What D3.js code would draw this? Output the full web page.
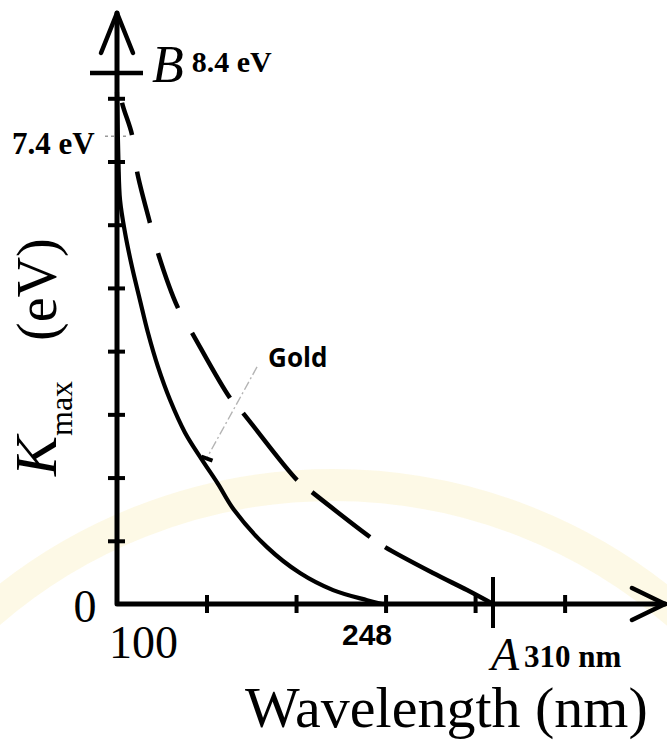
<!DOCTYPE html>
<html>
<head>
<meta charset="utf-8">
<title>Kmax vs Wavelength</title>
<script src="https://cdn.jsdelivr.net/npm/d3@7"></script>
<style>
    body { margin: 0; background: #ffffff; }
    svg { display: block; }
</style>
</head>
<body>
<div id="chart"></div>
<script>
// solid curve (gold): wavelength (nm) and Kmax (eV)
var solidLambda = [100, 100.8, 101.7, 104.5, 108.4, 112.8, 117.3, 122.9, 129.6, 138.0, 147.5, 156.4, 165.3, 183.8, 202.2, 220.7, 239.7, 248];
var solidK = [8.1, 7.02, 6.39, 5.87, 5.33, 4.81, 4.29, 3.75, 3.23, 2.71, 2.28, 1.90, 1.49, 0.90, 0.49, 0.22, 0.06, 0];

// dashed curve
var dashedLambda = [100, 102.8, 108.4, 111.2, 118.4, 122.9, 134.1, 141.9, 163.1, 170.4, 200.6, 208.9, 241.3, 249.7, 276.5, 295.5, 310];
var dashedK = [8.4, 7.93, 7.42, 6.84, 6.03, 5.55, 4.68, 4.29, 3.26, 3.02, 1.96, 1.77, 1.06, 0.90, 0.49, 0.22, 0];
// indices of the dashed curve points where a gap ends or a dash ends (first stretch is a gap)
var dashBreaks = [1, 2, 3, 4, 5, 6, 7, 8, 9, 10, 11, 12, 13];

// ticks
var xTicks = [150, 200, 250, 300, 350];
var yTicks = [1, 2, 3, 4, 5, 6, 7, 8];

// marked values
var lambdaMin = 100;
var lambdaGold = 248;
var lambdaA = 310;
var kB = 8.4;
var kGold = 7.4;

// label point for "Gold" and its leader line
var goldLabel = {lambda: 184.4, k: 3.75};
var goldLeader = [{lambda: 178.2, k: 3.75}, {lambda: 150.0, k: 2.30}];

window.onload = function() {
    draw();
};

function draw() {
    var width = 667;
    var height = 743;

    var xscale = d3.scaleLinear().domain([100, 310]).range([117, 493]);
    var yscale = d3.scaleLinear().domain([0, 8.4]).range([604, 73]);

    var svg = d3.select("#chart").append("svg")
        .attr("width", width)
        .attr("height", height);

    svg.append("rect").attr("width", width).attr("height", height).attr("fill", "#ffffff");

    // faint watermark ring in the background
    svg.append("circle")
        .attr("cx", 333).attr("cy", 1010).attr("r", 525)
        .attr("fill", "none")
        .attr("stroke", "#fcf7dc")
        .attr("stroke-width", 32)
        .attr("opacity", 0.7);

    var x0 = xscale(lambdaMin);
    var y0 = yscale(0);

    // axes with arrows
    var axisg = svg.append("g")
        .attr("fill", "none")
        .attr("stroke", "#000")
        .attr("stroke-linecap", "round")
        .attr("stroke-linejoin", "round");

    axisg.append("path")
        .attr("d", "M" + x0 + "," + 13 + "V" + y0 + "H" + 665)
        .attr("stroke-width", 5);
    axisg.append("path")
        .attr("d", "M" + (x0 - 16) + ",53L" + x0 + ",13L" + (x0 + 16) + ",53")
        .attr("stroke-width", 4.5);
    axisg.append("path")
        .attr("d", "M632," + (y0 - 16) + "L665," + y0 + "L632," + (y0 + 16))
        .attr("stroke-width", 4.5);

    // x ticks through d3 axis, ticks crossing the line
    var xaxis = d3.axisBottom(xscale)
        .tickValues(xTicks)
        .tickSizeOuter(0)
        .tickFormat("");
    var gx = svg.append("g")
        .attr("transform", "translate(0," + y0 + ")")
        .call(xaxis);
    gx.select(".domain").remove();
    gx.selectAll(".tick line")
        .attr("y1", -9).attr("y2", 9)
        .attr("stroke", "#000")
        .attr("stroke-width", 4);

    // y ticks
    var yaxis = d3.axisLeft(yscale)
        .tickValues(yTicks)
        .tickSizeOuter(0)
        .tickFormat("");
    var gy = svg.append("g")
        .attr("transform", "translate(" + x0 + ",0)")
        .call(yaxis);
    gy.select(".domain").remove();
    gy.selectAll(".tick line")
        .attr("x1", -9).attr("x2", 8)
        .attr("stroke", "#000")
        .attr("stroke-width", 4);

    // B tick at 8.4 eV
    svg.append("line")
        .attr("x1", x0 - 27).attr("x2", x0 + 26)
        .attr("y1", yscale(kB)).attr("y2", yscale(kB))
        .attr("stroke", "#000").attr("stroke-width", 4.5);

    // 7.4 eV dotted tick
    svg.append("line")
        .attr("x1", x0 - 12).attr("x2", x0 + 12)
        .attr("y1", yscale(kGold)).attr("y2", yscale(kGold))
        .attr("stroke", "#9a9a9a").attr("stroke-width", 1.5)
        .attr("stroke-dasharray", "3,3");

    // A tick at 310 nm
    svg.append("line")
        .attr("x1", xscale(lambdaA)).attr("x2", xscale(lambdaA))
        .attr("y1", y0 - 27).attr("y2", y0 + 24)
        .attr("stroke", "#000").attr("stroke-width", 4);

    var line = d3.line()
        .x(function(d) { return xscale(d[0]); })
        .y(function(d) { return yscale(d[1]); })
        .curve(d3.curveCatmullRom.alpha(0.5));

    var solid = d3.zip(solidLambda, solidK);
    var dashed = d3.zip(dashedLambda, dashedK);

    // gold leader line (light gray dash-dot)
    svg.append("line")
        .attr("x1", xscale(goldLeader[0].lambda)).attr("y1", yscale(goldLeader[0].k))
        .attr("x2", xscale(goldLeader[1].lambda)).attr("y2", yscale(goldLeader[1].k))
        .attr("stroke", "#b4b4b4").attr("stroke-width", 1.4)
        .attr("stroke-dasharray", "9,3,2,3");

    // solid curve
    svg.append("path")
        .attr("d", line(solid))
        .attr("fill", "none")
        .attr("stroke", "#000")
        .attr("stroke-width", 4.2);

    // small mark where the leader meets the solid curve
    svg.append("line")
        .attr("x1", xscale(goldLeader[1].lambda) - 5).attr("y1", yscale(goldLeader[1].k) - 2)
        .attr("x2", xscale(goldLeader[1].lambda) + 6).attr("y2", yscale(goldLeader[1].k) + 2)
        .attr("stroke", "#000").attr("stroke-width", 4);

    // dashed curve, dash lengths
    var dashPath = svg.append("path")
        .attr("d", line(dashed))
        .attr("fill", "none")
        .attr("stroke", "#000")
        .attr("stroke-width", 4.5);

    var tmp = svg.append("path").attr("fill", "none");
    var lengths = [0];
    dashBreaks.forEach(function(i) {
        tmp.attr("d", line(dashed.slice(0, i + 1)));
        lengths.push(tmp.node().getTotalLength());
    });
    tmp.remove();
    lengths.push(dashPath.node().getTotalLength());
    // start with an empty dash so the first stretch is a gap
    var pattern = [0];
    for (var i = 1; i < lengths.length; i++) {
        pattern.push(Math.max(0, lengths[i] - lengths[i - 1]));
    }
    pattern.push(2000);
    dashPath.attr("stroke-dasharray", pattern.join(","));

    // texts
    var serif = "'Liberation Serif', 'DejaVu Serif', serif";
    var sans = "'Liberation Sans', Arial, sans-serif";

    svg.append("text").text("0")
        .attr("x", 85).attr("y", 622)
        .attr("text-anchor", "middle")
        .style("font-family", serif).style("font-size", "46px");

    svg.append("text").text(String(lambdaMin))
        .attr("x", 109).attr("y", 658)
        .style("font-family", serif).style("font-size", "46px");

    svg.append("text").text(String(lambdaGold))
        .attr("x", xscale(lambdaGold) - 15).attr("y", 645)
        .attr("text-anchor", "middle")
        .style("font-family", sans).style("font-weight", "bold").style("font-size", "30px");

    var ta = svg.append("text")
        .attr("x", xscale(lambdaA) - 2).attr("y", 670)
        .style("font-family", serif);
    ta.append("tspan").text("A").style("font-style", "italic").style("font-size", "46px");
    ta.append("tspan").text(lambdaA + " nm").attr("dx", 5).attr("dy", -3)
        .style("font-weight", "bold").style("font-size", "31px");

    var tb = svg.append("text")
        .attr("x", x0 + 35).attr("y", 82)
        .style("font-family", serif);
    tb.append("tspan").text("B").style("font-style", "italic").style("font-size", "52px");
    tb.append("tspan").text(kB + " eV").attr("dx", 8).attr("dy", -10)
        .style("font-weight", "bold").style("font-size", "30px");

    svg.append("text").text(kGold + " eV")
        .attr("x", 12).attr("y", yscale(kGold) + 18)
        .style("font-family", serif).style("font-weight", "bold").style("font-size", "31px");

    svg.append("text").text("Gold")
        .attr("x", xscale(goldLabel.lambda)).attr("y", yscale(goldLabel.k))
        .style("font-family", "'Open Sans', sans-serif").style("font-weight", "bold").style("font-size", "26px");

    // axis titles
    svg.append("text").text("Wavelength (nm)")
        .attr("x", 245).attr("y", 727)
        .style("font-family", serif).style("font-size", "58px");

    var ty = svg.append("text")
        .attr("transform", "translate(56,476) rotate(-90)")
        .style("font-family", serif);
    ty.append("tspan").text("K").style("font-style", "italic").style("font-size", "60px");
    ty.append("tspan").text("max").attr("dy", 16).style("font-size", "32px");
    ty.append("tspan").text("(eV)").attr("dx", 40).attr("dy", -16).style("font-size", "56px");
}
</script>
</body>
</html>
